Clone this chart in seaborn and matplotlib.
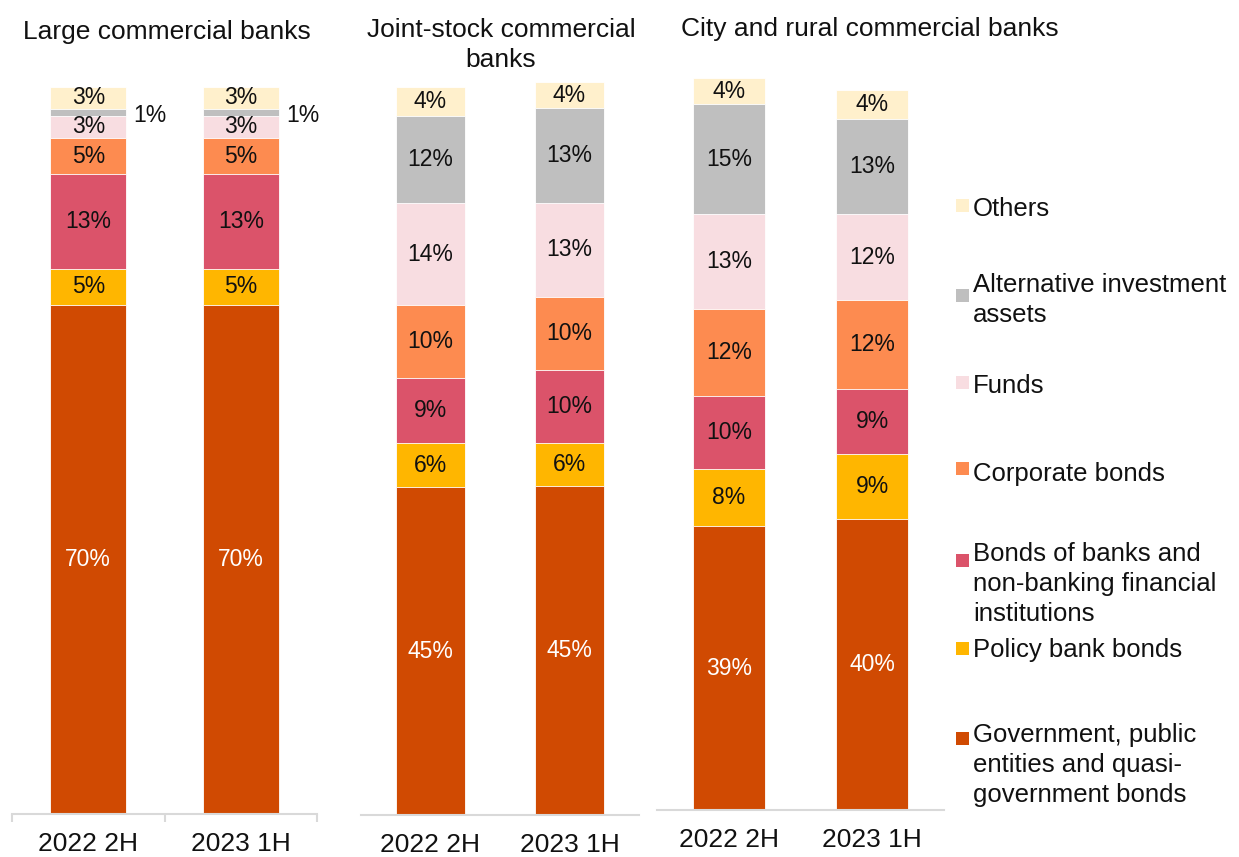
import matplotlib
matplotlib.use("Agg")
import matplotlib.pyplot as plt
from matplotlib.patches import Rectangle
import numpy as np
import pandas as pd
import seaborn as sns

sns.set_theme(style="white")
plt.rcParams["font.family"] = ["Liberation Sans", "DejaVu Sans"]

# ---- data -------------------------------------------------------------
periods = ["2022 2H", "2023 1H"]
asset_classes = [
    "Government, public\nentities and quasi-\ngovernment bonds",
    "Policy bank bonds",
    "Bonds of banks and\nnon-banking financial\ninstitutions",
    "Corporate bonds",
    "Funds",
    "Alternative investment\nassets",
    "Others",
]
colors = ["#D04A02", "#FFB600", "#DB536A", "#FD8B50", "#F8DDE1", "#BFBFBF", "#FFF0CC"]

# shares (%) in stacking order, bottom to top
large_2022 = [70.0, 5.0, 13.0, 5.0, 3.0, 1.0, 3.0]
large_2023 = [70.0, 5.0, 13.0, 5.0, 3.0, 1.0, 3.0]
joint_2022 = [44.9, 6.0, 9.0, 9.9, 14.0, 11.9, 4.0]
joint_2023 = [45.0, 6.0, 9.9, 10.0, 13.0, 12.9, 3.6]
city_2022 = [38.9, 7.9, 10.0, 11.9, 13.0, 15.1, 3.6]
city_2023 = [39.9, 9.0, 8.9, 12.1, 11.9, 13.0, 4.0]

panel_titles = ["Large commercial banks", "Joint-stock commercial\nbanks",
                "City and rural commercial banks"]
panel_data = [(large_2022, large_2023), (joint_2022, joint_2023), (city_2022, city_2023)]

# ---- layout (pixels) --------------------------------------------------
W, H = 1239, 857
LINE_PX = 31          # baseline-to-baseline distance for wrapped text
LINESPACING = 1.32
fig = plt.figure(figsize=(W / 100, H / 100), dpi=100)
fig.patch.set_facecolor("white")

YMAX = 105
# left, width, baseline, px per percentage point
panel_boxes = [(12, 305, 814, 7.27), (361, 278, 815, 7.30), (657, 287, 810, 7.29)]
AXIS_GREY = "#D9D9D9"

for p, ((left, width, base, scale), title, (v22, v23)) in enumerate(
        zip(panel_boxes, panel_titles, panel_data)):
    height = YMAX * scale
    ax = fig.add_axes([left / W, (H - base) / H, width / W, height / H])
    ax.set_facecolor("none")

    vals = np.array([v22, v23])          # periods x classes
    cum = np.cumsum(vals, axis=1)

    # stacked bars: draw cumulative totals from the top segment down
    for k in range(len(asset_classes) - 1, -1, -1):
        df = pd.DataFrame({"period": periods, "total": cum[:, k]})
        sns.barplot(data=df, x="period", y="total", order=periods, color=colors[k],
                    saturation=1, width=0.5, errorbar=None, ax=ax,
                    edgecolor="white", linewidth=0.6)

    for i in range(len(periods)):
        for k in range(len(asset_classes)):
            v = vals[i, k]
            yc = cum[i, k] - v / 2
            txt = f"{v:.0f}%"
            if v < 2:
                ax.annotate(txt, xy=(i + 0.25, yc), xytext=(5, -2),
                            textcoords="offset points", ha="left", va="center",
                            fontsize=16.5, color="#111111", annotation_clip=False)
            else:
                ax.text(i, yc, txt, ha="center", va="center", fontsize=16.5,
                        color="white" if k == 0 else "#111111")

    ax.set_xlim(-0.5, 1.5)
    ax.set_ylim(0, YMAX)
    ax.set_yticks([])
    ax.set_xlabel("")
    ax.set_ylabel("")
    for s in ("top", "left", "right"):
        ax.spines[s].set_visible(False)
    ax.spines["bottom"].set_color(AXIS_GREY)
    ax.spines["bottom"].set_linewidth(1.5)
    ax.tick_params(axis="x", which="major", length=0, pad=13, labelsize=19,
                   labelcolor="#111111")
    if p == 0:
        ax.set_xticks([-0.5, 0.5, 1.5], minor=True)
        ax.tick_params(axis="x", which="minor", bottom=True, length=6, width=1.5,
                       color=AXIS_GREY, direction="out")


def put_text(x_px, first_baseline_px, text, **kw):
    """Place (possibly wrapped) text by the baseline of its first line."""
    n = text.count("\n")
    y = first_baseline_px + n * LINE_PX
    fig.text(x_px / W, 1 - y / H, text, va="baseline", color="#111111",
             linespacing=LINESPACING, **kw)


# ---- panel titles -----------------------------------------------------
put_text(167, 39, panel_titles[0], ha="center", fontsize=19)
put_text(501, 36, panel_titles[1], ha="center", fontsize=19, multialignment="center")
put_text(681, 36, panel_titles[2], ha="left", fontsize=19)

# ---- legend (top entry first) -----------------------------------------
legend_pos = {  # first-line baseline, marker centre (pixels from top)
    "Others": (216, 205),
    "Alternative investment\nassets": (291, 295),
    "Funds": (393, 382),
    "Corporate bonds": (481, 469),
    "Bonds of banks and\nnon-banking financial\ninstitutions": (559, 560),
    "Policy bank bonds": (657, 648),
    "Government, public\nentities and quasi-\ngovernment bonds": (740, 738),
}
for label, color in zip(asset_classes, colors):
    text_y, mark_y = legend_pos[label]
    fig.add_artist(Rectangle((956 / W, 1 - (mark_y + 6.5) / H), 13 / W, 13 / H,
                             transform=fig.transFigure, facecolor=color,
                             edgecolor="none"))
    put_text(973, text_y, label, ha="left", fontsize=18.5)

fig.savefig("out.png", dpi=100, facecolor="white")
